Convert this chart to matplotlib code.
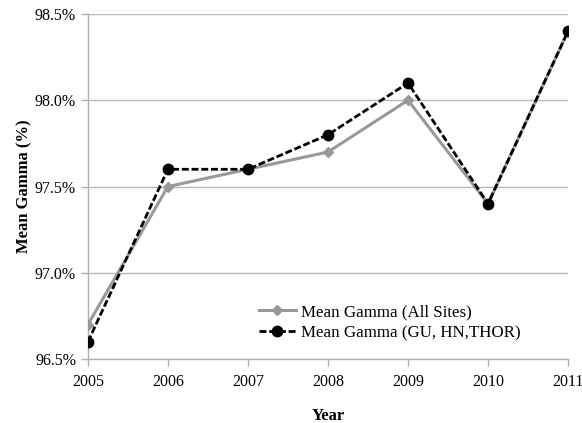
import matplotlib.pyplot as plt
from matplotlib.ticker import FuncFormatter

years = [2005, 2006, 2007, 2008, 2009, 2010, 2011]
all_sites = [96.7, 97.5, 97.6, 97.7, 98.0, 97.4, 98.4]
gu_hn_thor = [96.6, 97.6, 97.6, 97.8, 98.1, 97.4, 98.4]


def main():
    plt.rcParams['font.family'] = ['Liberation Serif', 'DejaVu Serif']
    fig = plt.figure(figsize=(5.82, 4.23), dpi=100)
    ax = fig.add_axes([0.151, 0.151, 0.825, 0.816])

    ax.plot(years, all_sites, color='#999999', lw=2.2, marker='D', ms=5,
            label='Mean Gamma (All Sites)', zorder=3)
    ax.plot(years, gu_hn_thor, color='black', lw=2, ls=(0, (2.5, 1)),
            marker='o', ms=7.5, label='Mean Gamma (GU, HN,THOR)', zorder=4)

    ax.set_xlim(2005, 2011)
    ax.set_ylim(96.5, 98.5)
    ax.set_yticks([96.5, 97.0, 97.5, 98.0, 98.5])
    ax.set_xticks(years)
    ax.yaxis.set_major_formatter(FuncFormatter(lambda v, p: f'{v:.1f}%'))
    ax.grid(axis='y', color='#b8b8b8', lw=1)
    ax.set_axisbelow(True)

    for s in ['top', 'right']:
        ax.spines[s].set_visible(False)
    for s in ['left', 'bottom']:
        ax.spines[s].set_color('#b0b0b0')
        ax.spines[s].set_linewidth(1)
    ax.tick_params(colors='#b0b0b0', labelcolor='black', labelsize=11.5,
                   length=5, width=1)
    ax.tick_params(axis='x', pad=6)

    ax.set_xlabel('Year', fontsize=12, fontweight='bold', labelpad=13)
    ax.set_ylabel('Mean Gamma (%)', fontsize=12, fontweight='bold', labelpad=2)

    ax.legend(loc='lower left', bbox_to_anchor=(0.324, 0.008), frameon=False,
              fontsize=12.2, handlelength=2.2, labelspacing=0.3,
              handletextpad=0.3)

    fig.savefig('out.png')


main()
